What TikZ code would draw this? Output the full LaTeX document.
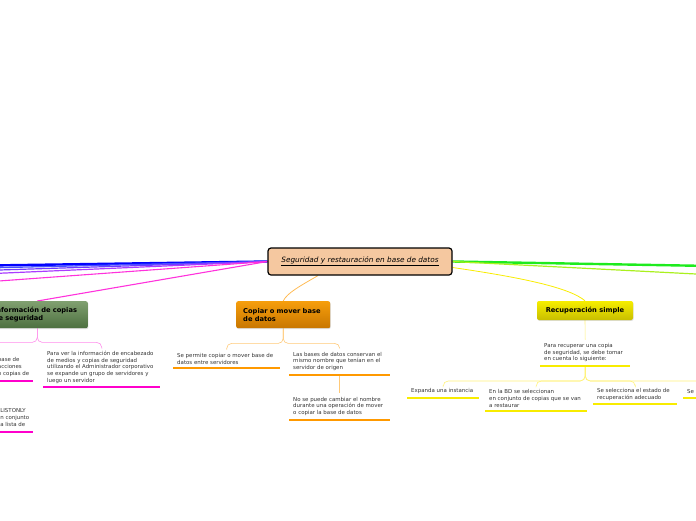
\documentclass[tikz,border=0pt]{standalone}
\usepackage{fontspec}
\setmainfont{DejaVu Sans}
\usetikzlibrary{shadows,backgrounds}

\definecolor{rootfill}{HTML}{F5C8A0}
\definecolor{magbar}{HTML}{FF00CC}
\definecolor{maglink}{HTML}{FF8CEB}
\definecolor{orabar}{HTML}{FF9900}
\definecolor{oralink}{HTML}{FFC978}
\definecolor{yelbar}{HTML}{F8EC00}
\definecolor{yellink}{HTML}{FFF27A}
\definecolor{infotop}{HTML}{80A070}
\definecolor{infobot}{HTML}{4D7040}
\definecolor{copytop}{HTML}{F69E0C}
\definecolor{copybot}{HTML}{C87600}
\definecolor{recuptop}{HTML}{F6EE00}
\definecolor{recupbot}{HTML}{C8BE00}
\definecolor{lineA}{HTML}{0000FF}
\definecolor{lineB}{HTML}{4650FF}
\definecolor{lineC}{HTML}{6E3CFF}
\definecolor{lineD}{HTML}{AA3CFF}
\definecolor{lineE}{HTML}{FF32DC}
\definecolor{lineF}{HTML}{1EEB1E}
\definecolor{lineG}{HTML}{AAF01E}

\begin{document}
\begin{tikzpicture}[x=1pt, y=-1pt,
    root/.style={draw, line width=1.2pt, rounded corners=3pt, fill=rootfill, minimum width=184pt, minimum height=27pt, font=\fontsize{7.3}{9}\selectfont},
    topic/.style={rounded corners=2pt, minimum height=27pt, inner xsep=7pt, align=left, font=\bfseries\fontsize{6.7}{8}\selectfont, drop shadow={opacity=0.25, shadow xshift=0.6pt, shadow yshift=-0.9pt}},
    item/.style={anchor=south west, inner xsep=4pt, inner ysep=3.5pt, align=flush left, font=\fontsize{5.45}{6.7}\selectfont, text=black!80},
    link/.style={line width=0.6pt, rounded corners=5pt},
    bar/.style={line width=2pt}
]
\useasboundingbox (0,0) rectangle (696,520);

\node[root] (root) at (360,261.5) {\underline{\textit{Seguridad y restauración en base de datos}}};

\node[topic, anchor=north east, text width=87pt, top color=infotop, bottom color=infobot] (info) at (88,301) {Información de copias\\de seguridad};
\node[topic, anchor=north west, text width=80pt, top color=copytop, bottom color=copybot] (copy) at (236,301) {Copiar o mover base\\de datos};
\node[topic, minimum width=96pt, minimum height=19pt, align=center, top color=recuptop, bottom color=recupbot] (recup) at (585,310.5) {Recuperación simple};

\node[item, text width=95pt, align=flush right] (m1) at (-70,381) {\begin{tabular}{@{}l@{}}base de\\acciones\\n copias de\end{tabular}};
\node[item, text width=95pt, align=flush right] (m2) at (-70,432) {\begin{tabular}{@{}l@{}}LISTONLY\\n conjunto\\a lista de\end{tabular}};
\node[item, text width=109pt] (m3) at (43,387) {Para ver la información de encabezado\\de medios y copias de seguridad\\utilizando el Administrador corporativo\\se expande un grupo de servidores y\\luego un servidor};

\node[item, text width=99pt] (o1) at (173,368) {Se permite copiar o mover base de\\datos entre servidores};
\node[item, text width=93pt] (o2) at (289,374.5) {Las bases de datos conservan el\\mismo nombre que tenían en el\\servidor de origen};
\node[item, text width=93pt] (o3) at (289,419.5) {No se puede cambiar el nombre\\durante una operación de mover\\o copiar la base de datos};

\node[item, text width=82pt] (y1) at (540,365.7) {Para recuperar una copia\\de seguridad, se debe tomar\\en cuenta lo siguiente:};
\node[item, text width=64pt] (y2) at (407,397.7) {Expanda una instancia};
\node[item, text width=94pt] (y3) at (485,411) {En la BD se seleccionan\\en conjunto de copias que se van\\a restaurar};
\node[item, text width=76pt] (y4) at (593,404) {Se selecciona el estado de\\recuperación adecuado};
\node[item, text width=70pt] (y5) at (683,397.7) {Se};

\coordinate (l1) at (-4,265.4);
\coordinate (l2) at (-4,267.7);
\coordinate (l3) at (-4,270.1);
\coordinate (l4) at (-4,273.4);
\coordinate (l5) at (-4,281.2);
\coordinate (r1) at (700,265.8);
\coordinate (r2) at (700,274.2);

\begin{scope}[on background layer]
\draw[line width=2.4pt, lineA] (root.west) -- (l1);
\draw[line width=1.3pt, lineB] (root.west) -- (l2);
\draw[line width=1.2pt, lineC] (root.west) -- (l3);
\draw[line width=1.2pt, lineD] (root.west) -- (l4);
\draw[line width=1.1pt, lineE] (root.west) -- (l5);
\draw[line width=1.1pt, lineE] (root.west) -- (info.north);
\draw[line width=2.4pt, lineF] (root.east) -- (r1);
\draw[line width=1.2pt, lineG] (root.east) -- (r2);
\draw[line width=0.8pt, oralink!70!orabar] ([xshift=-42pt]root.south) .. controls (300,286) and (287,293) .. (copy.north);
\draw[line width=0.8pt, yelbar] ([yshift=-6pt]root.east) .. controls (525,278) and (570,288) .. (recup.north);

\draw[link, maglink] (info.south) -- ++(0,14) -| (m1.north);
\draw[link, maglink] (info.south) -- ++(0,14) -| (m3.north);
\draw[link, maglink] (m1.south) -- (m2.north);
\draw[link, oralink] (copy.south) -- ++(0,15) -| (o1.north);
\draw[link, oralink] (copy.south) -- ++(0,15) -| (o2.north);
\draw[link, oralink] (o2.south) -- (o3.north);
\draw[link, yellink] (recup.south) -- (y1.north);
\foreach \n in {y2,y3,y4,y5}
  \draw[link, yellink] (y1.south) -- ++(0,15.3) -| (\n.north);
\end{scope}

\foreach \n in {m1,m2,m3}
  \draw[bar, magbar] (\n.south west) -- (\n.south east);
\foreach \n in {o1,o2,o3}
  \draw[bar, orabar] (\n.south west) -- (\n.south east);
\foreach \n in {y1,y2,y3,y4,y5}
  \draw[bar, yelbar] (\n.south west) -- (\n.south east);
\end{tikzpicture}
\end{document}
